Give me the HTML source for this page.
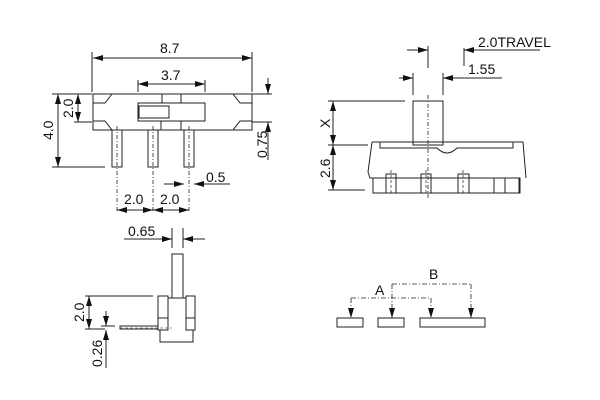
<!DOCTYPE html>
<html><head><meta charset="utf-8"><style>html,body{margin:0;padding:0;background:#fff}svg{display:block}</style></head><body>
<svg width="600" height="400" viewBox="0 0 600 400" xmlns="http://www.w3.org/2000/svg" font-family="Liberation Sans, sans-serif" font-size="14" fill="none" stroke="#222" stroke-width="1">
<defs><marker id="a" viewBox="0 0 10 6" refX="10" refY="3" markerWidth="10" markerHeight="6" orient="auto-start-reverse" markerUnits="userSpaceOnUse"><path d="M0,0L10,3L0,6z" fill="#111" stroke="none"/></marker></defs>
<rect x="93" y="94" width="159" height="36"/>
<path d="M93,103H105L112,94M93,121H105L112,130M252,103H240L233,94M252,121H240L233,130"/>
<rect x="138" y="103" width="67" height="18"/>
<rect x="139" y="106" width="30" height="12"/>
<rect x="162" y="94" width="19" height="9"/>
<rect x="161" y="121" width="20" height="9"/>
<rect x="112" y="130" width="10" height="37"/><rect x="148" y="130" width="10" height="37"/><rect x="184" y="130" width="10" height="37"/>
<path d="M117,126V212M153,126V212M189,126V212" stroke-dasharray="4,2,1,2" stroke-width="0.8"/>
<path d="M92,52V92M252,52V92M138,80V92M205,80V92"/>
<line x1="93" y1="58" x2="252" y2="58" marker-start="url(#a)" marker-end="url(#a)"/>
<line x1="138" y1="84" x2="205" y2="84" marker-start="url(#a)" marker-end="url(#a)"/>
<g fill="#111" stroke="none"><text x="160" y="53">8.7</text><text x="161" y="80">3.7</text></g>
<path d="M52,94H92M74,122H92M52,167H105"/>
<line x1="58" y1="94" x2="58" y2="167" marker-start="url(#a)" marker-end="url(#a)"/>
<line x1="78" y1="94" x2="78" y2="122" marker-start="url(#a)" marker-end="url(#a)"/>
<g fill="#111" stroke="none"><text transform="translate(53,130) rotate(-90) translate(-10,0)">4.0</text><text transform="translate(73,108) rotate(-90) translate(-10,0)">2.0</text><text transform="translate(267,145) rotate(-90) translate(-13,0)">0.75</text></g>
<path d="M252,94H272M252,122H272"/>
<line x1="268" y1="78" x2="268" y2="94" marker-end="url(#a)"/>
<line x1="268" y1="160" x2="268" y2="122" marker-end="url(#a)"/>
<line x1="117" y1="210" x2="189" y2="210"/>
<line x1="117" y1="210" x2="153" y2="210" marker-start="url(#a)" marker-end="url(#a)"/>
<line x1="153" y1="210" x2="189" y2="210" marker-start="url(#a)" marker-end="url(#a)"/>
<line x1="164" y1="184" x2="184" y2="184" marker-end="url(#a)"/>
<line x1="230" y1="184" x2="194" y2="184" marker-end="url(#a)"/>
<g fill="#111" stroke="none"><text x="124" y="204">2.0</text><text x="160" y="204">2.0</text><text x="206" y="182">0.5</text></g>
<rect x="413" y="101" width="30" height="44"/>
<path d="M428,95V200" stroke-dasharray="4,2,1,2" stroke-width="0.8"/>
<path d="M372,142H523L526,178M372,142L368,172L370,178H373M380,142V148H437Q447,158 457,148H513V142"/>
<rect x="373" y="178" width="147" height="15"/>
<rect x="386" y="174" width="10" height="19"/><rect x="421" y="174" width="10" height="19"/><rect x="458" y="174" width="11" height="19"/>
<path d="M386,178H396M421,178H431M458,178H469"/>
<path d="M391,170V195M426,170V195M463,170V195" stroke-dasharray="3,2" stroke-width="0.7"/>
<rect x="494" y="178" width="11" height="15"/><rect x="505" y="178" width="14" height="15"/>
<path d="M328,101H405M328,145H368M328,190H365"/>
<line x1="333" y1="101" x2="333" y2="145" marker-start="url(#a)" marker-end="url(#a)"/>
<line x1="333" y1="145" x2="333" y2="190" marker-start="url(#a)" marker-end="url(#a)"/>
<g fill="#111" stroke="none"><text transform="translate(330,123) rotate(-90) translate(-5,0)">X</text><text transform="translate(330,168) rotate(-90) translate(-10,0)">2.6</text></g>
<path d="M413,73V95M443,73V95M428,46V68M464,48V66"/>
<line x1="399" y1="78" x2="413" y2="78" marker-end="url(#a)"/>
<line x1="502" y1="78" x2="443" y2="78" marker-end="url(#a)"/>
<line x1="407" y1="50" x2="428" y2="50" marker-end="url(#a)"/>
<line x1="540" y1="50" x2="464" y2="50" marker-end="url(#a)"/>
<g fill="#111" stroke="none"><text x="468" y="74">1.55</text><text x="478" y="47">2.0TRAVEL</text></g>
<path d="M172,228V248M183,228V248"/>
<line x1="124" y1="239" x2="172" y2="239" marker-end="url(#a)"/>
<line x1="205" y1="239" x2="183" y2="239" marker-end="url(#a)"/>
<text x="128" y="236" fill="#111" stroke="none">0.65</text>
<rect x="172" y="254" width="11" height="44"/>
<rect x="158" y="296" width="10" height="34"/><rect x="186" y="296" width="9" height="34"/>
<path d="M158,318H168M186,318H195M168,298H186M160,330V342H193V330"/>
<rect x="120" y="326" width="38" height="3"/>
<path d="M120,328H172" stroke-dasharray="3,2" stroke-width="0.6"/>
<path d="M85,296H153M85,329H105M101,326H115"/>
<line x1="89" y1="296" x2="89" y2="329" marker-start="url(#a)" marker-end="url(#a)"/>
<line x1="106" y1="311" x2="106" y2="326" marker-end="url(#a)"/>
<line x1="106" y1="368" x2="106" y2="330" marker-end="url(#a)"/>
<g fill="#111" stroke="none"><text transform="translate(84,312) rotate(-90) translate(-10,0)">2.0</text><text transform="translate(102,354) rotate(-90) translate(-13,0)">0.26</text></g>
<rect x="337" y="318" width="26" height="9"/><rect x="378" y="318" width="26" height="9"/><rect x="420" y="318" width="65" height="9"/>
<g stroke-dasharray="5,2,1,2" stroke-width="0.8">
<path d="M351,298H431M392,284H471"/>
<line x1="351" y1="298" x2="351" y2="318" marker-end="url(#a)"/>
<line x1="431" y1="298" x2="431" y2="318" marker-end="url(#a)"/>
<line x1="392" y1="284" x2="392" y2="318" marker-end="url(#a)"/>
<line x1="471" y1="284" x2="471" y2="318" marker-end="url(#a)"/>
</g>
<g fill="#111" stroke="none"><text x="375" y="295">A</text><text x="429" y="279">B</text></g>
</svg>
</body></html>
